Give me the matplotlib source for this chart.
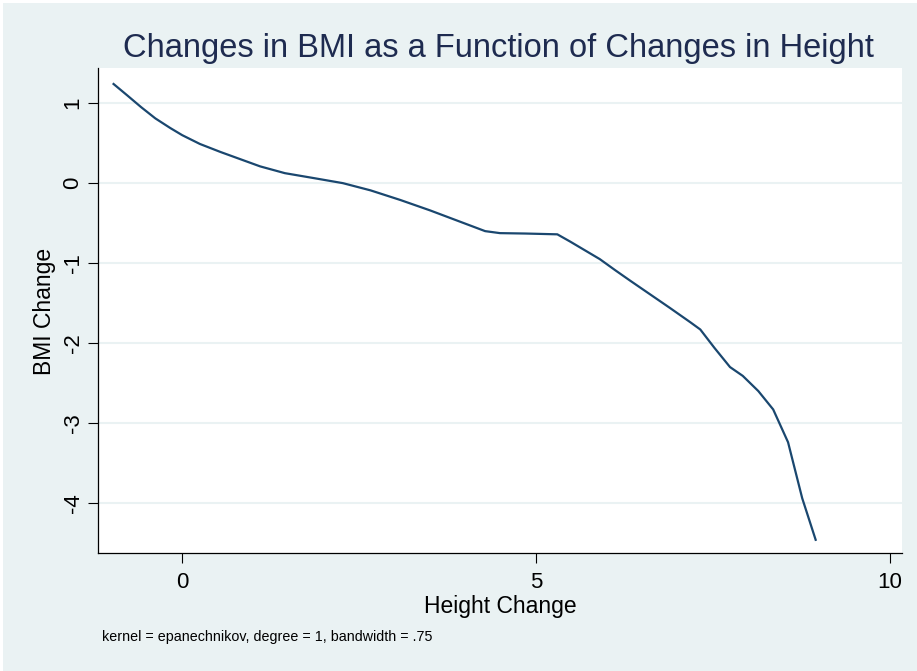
import matplotlib.pyplot as plt
from matplotlib.patches import Rectangle

# lowess-style smooth
height_change = [-0.97, -0.78, -0.58, -0.38, -0.17, 0.0, 0.25, 0.54, 0.82, 1.10, 1.45,
                 1.88, 2.27, 2.66, 3.08, 3.50, 3.86, 4.28, 4.49, 4.85, 5.30, 5.48,
                 5.69, 5.90, 6.12, 6.33, 6.61, 6.89, 7.18, 7.32, 7.52, 7.74, 7.92,
                 8.14, 8.35, 8.56, 8.76, 8.95]
bmi_change = [1.24, 1.10, 0.95, 0.81, 0.69, 0.60, 0.49, 0.39, 0.30, 0.21, 0.125,
              0.06, 0.0, -0.09, -0.21, -0.34, -0.46, -0.60, -0.625, -0.63, -0.64, -0.73,
              -0.84, -0.95, -1.09, -1.22, -1.39, -1.56, -1.74, -1.83, -2.06, -2.30, -2.41,
              -2.60, -2.83, -3.24, -3.94, -4.46]
x_ticks = [0, 5, 10]
y_ticks = [1, 0, -1, -2, -3, -4]

bg = '#eaf2f3'
navy = '#1a476f'
title_col = '#1e2b50'
plt.rcParams['font.family'] = ['Liberation Sans', 'DejaVu Sans']

W, H = 917, 671
fig = plt.figure(figsize=(9.17, 6.71), dpi=100, facecolor='white')
fig.patches.append(Rectangle((3 / W, 0), 1, 1 - 3 / H, transform=fig.transFigure,
                             facecolor=bg, edgecolor='none', zorder=-10))
ax = fig.add_axes([98 / W, 1 - 553 / H, (902 - 98) / W, (553 - 68) / H])
ax.set_facecolor('white')

ax.plot(height_change, bmi_change, color=navy, linewidth=1.6)

ax.set_xlim(-1.19, 10.17)
ax.set_ylim(-4.625, 1.44)
ax.set_xticks(x_ticks)
ax.set_yticks(y_ticks)
ax.set_yticklabels([str(t) for t in y_ticks], rotation=90, va='center')
ax.tick_params(axis='both', labelsize=16, length=7.2, width=0.8, color='black')
ax.tick_params(axis='x', pad=6.3)
ax.tick_params(axis='y', pad=3.2)
ax.grid(axis='y', color=bg, linewidth=1.5)
ax.set_axisbelow(True)
for side in ['top', 'right']:
    ax.spines[side].set_visible(False)
for side in ['left', 'bottom']:
    ax.spines[side].set_linewidth(0.9)

# axis titles and captions placed by baseline
fig.text(500 / W, 1 - 613 / H, 'Height Change', fontsize=16.5,
         ha='center', va='baseline')
fig.text(51 / W, 1 - 311 / H, 'BMI Change', fontsize=16.5, rotation=90,
         ha='center', va='baseline', rotation_mode='anchor')
fig.text(498 / W, 1 - 57 / H, 'Changes in BMI as a Function of Changes in Height',
         fontsize=23.5, color=title_col, ha='center', va='baseline')
fig.text(102 / W, 1 - 641 / H, 'kernel = epanechnikov, degree = 1, bandwidth = .75',
         fontsize=10.3, ha='left', va='baseline')

fig.savefig('out.png', dpi=100, facecolor=fig.get_facecolor())
